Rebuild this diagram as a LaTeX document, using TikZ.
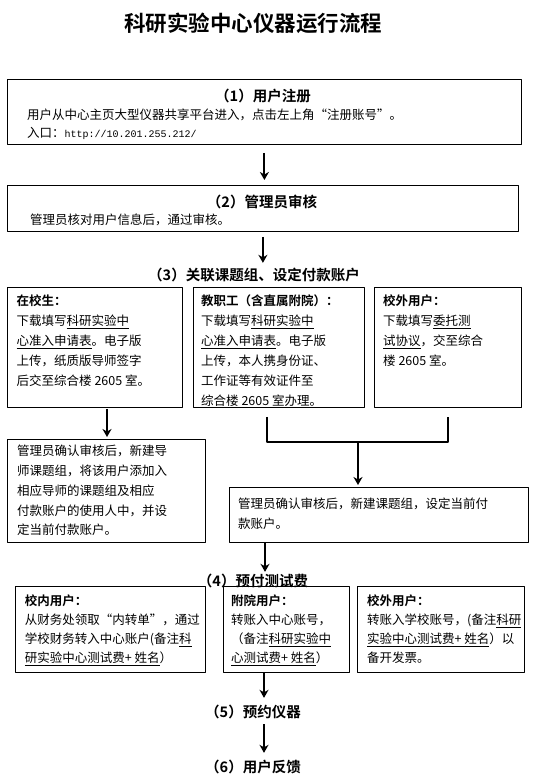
\documentclass[tikz,border=0pt]{standalone}
\usepackage{fontspec}
\usetikzlibrary{arrows.meta}
\setmainfont{Noto Sans CJK SC}[BoldFont={Noto Sans CJK SC Bold}]
\newfontfamily\dengkuan{Liberation Mono}
\begin{document}
\begin{tikzpicture}[x=1pt, y=-1pt, line join=round, >={Stealth[length=8pt, width=9pt, inset=2.5pt]},
		kuang/.style={draw, line width=0.8pt, anchor=north west, inner sep=0pt},
		wz/.style={anchor=north west, inner sep=0pt, align=left, font=\fontsize{12.5}{#1}\selectfont},
		wz/.default=20,
		bt/.style={inner sep=0pt, font=\fontsize{14.5}{16}\selectfont\bfseries},
		jt/.style={->, line width=2pt},
		xian/.style={line width=2pt}]
	\useasboundingbox (0,0) rectangle (537,777);
	\node[font=\fontsize{21.5}{24}\selectfont\bfseries] (biaoti) at (253,23) {科研实验中心仪器运行流程};
	% (1) (2)
	\node[kuang, minimum width=514, minimum height=65] (reg) at (7,79) {};
	\node[bt] (regbt) at (263,96) {（1）用户注册};
	\node[wz=18.5] (regtxt) at (27,108.5) {用户从中心主页大型仪器共享平台进入，点击左上角“注册账号”。\\入口：{\dengkuan\fontsize{10}{18.5}\selectfont http://10.201.255.212/}};
	\node[kuang, minimum width=511, minimum height=46] (audit) at (7,185) {};
	\node[bt] (auditbt) at (262,202) {（2）管理员审核};
	\node[wz] (audittxt) at (30,214) {管理员核对用户信息后，通过审核。};
	\draw[jt, shorten <=8pt, shorten >=5pt] (reg.south) -- (reg.south |- audit.north);
	% (3)
	\node[bt] (l3) at (254,275) {（3）关联课题组、设定付款账户};
	\draw[jt, shorten <=5pt, shorten >=5pt] (audit.south) -- (audit.south |- l3.north);
	\node[kuang, minimum width=175, minimum height=120] (stu) at (7,287) {};
	\node[kuang, minimum width=171, minimum height=120] (staff) at (193,287) {};
	\node[kuang, minimum width=147, minimum height=120] (ext) at (374,287) {};
	\node[wz] (stutxt) at (16.5,295) {{\bfseries 在校生：}\\下载填写\underline{科研实验中}\\\underline{心准入申请表}。电子版\\上传，纸质版导师签字\\后交至综合楼 2605 室。};
	\node[wz] (stafftxt) at (201,295) {{\bfseries 教职工（含直属附院）：}\\下载填写\underline{科研实验中}\\\underline{心准入申请表}。电子版\\上传，本人携身份证、\\工作证等有效证件至\\综合楼 2605 室办理。};
	\node[wz] (exttxt) at (383,295) {{\bfseries 校外用户：}\\下载填写\underline{委托测}\\\underline{试协议}，交至综合\\楼 2605 室。};
	\node[kuang, minimum width=198, minimum height=103] (ack1) at (7,439) {};
	\node[kuang, minimum width=299, minimum height=55] (ack2) at (229,487) {};
	\node[wz=19.8] (ack1txt) at (17,445) {管理员确认审核后，新建导\\师课题组，将该用户添加入\\相应导师的课题组及相应\\付款账户的使用人中，并设\\定当前付款账户。};
	\node[wz=19.5] (ack2txt) at (238,498) {管理员确认审核后，新建课题组，设定当前付\\款账户。};
	\coordinate (a1) at (107,0);
	\coordinate (b1) at (267,0);
	\coordinate (hui) at (358,442);
	\draw[jt, shorten <=1pt, shorten >=2pt] (stu.south -| a1) -- (ack1.north -| a1);
	\draw[xian, shorten <=9pt, shorten >=9pt] (staff.south -| b1) -- (b1 |- hui) -- (ext.south |- hui) -- (ext.south);
	\draw[jt, shorten >=2pt] (hui) -- (hui |- ack2.north);
	% (4)
	\node[bt] (l4) at (253,581) {（4）预付测试费};
	\coordinate (d1) at (265,0);
	\draw[jt, shorten >=2pt] (ack2.south -| d1) -- (l4.north -| d1);
	\node[kuang, minimum width=190, minimum height=86] (xn) at (15,586) {};
	\node[kuang, minimum width=126, minimum height=86] (fy) at (223,586) {};
	\node[kuang, minimum width=167, minimum height=86] (xw) at (357,586) {};
	\node[wz=19] (xntxt) at (24.7,595) {{\bfseries 校内用户：}\\从财务处领取“内转单”，通过\\学校财务转入中心账户(备注\underline{科}\\\underline{研实验中心测试费+ 姓名}）};
	\node[wz=19] (fytxt) at (231,595) {{\bfseries 附院用户：}\\转账入中心账号，\\（备注\underline{科研实验中}\\\underline{心测试费+ 姓名}）};
	\node[wz=19] (xwtxt) at (367,595) {{\bfseries 校外用户：}\\转账入学校账号，(备注\underline{科研}\\\underline{实验中心测试费+ 姓名}）以\\备开发票。};
	% (5) (6)
	\node[bt] (l5) at (253,712) {（5）预约仪器};
	\node[bt] (l6) at (253,767) {（6）用户反馈};
	\coordinate (e1) at (264,0);
	\draw[jt, shorten >=7pt] (fy.south -| e1) -- (l5.north -| e1);
	\draw[jt, shorten <=5pt, shorten >=7pt] (l5.south -| e1) -- (l6.north -| e1);
\end{tikzpicture}
\end{document}
